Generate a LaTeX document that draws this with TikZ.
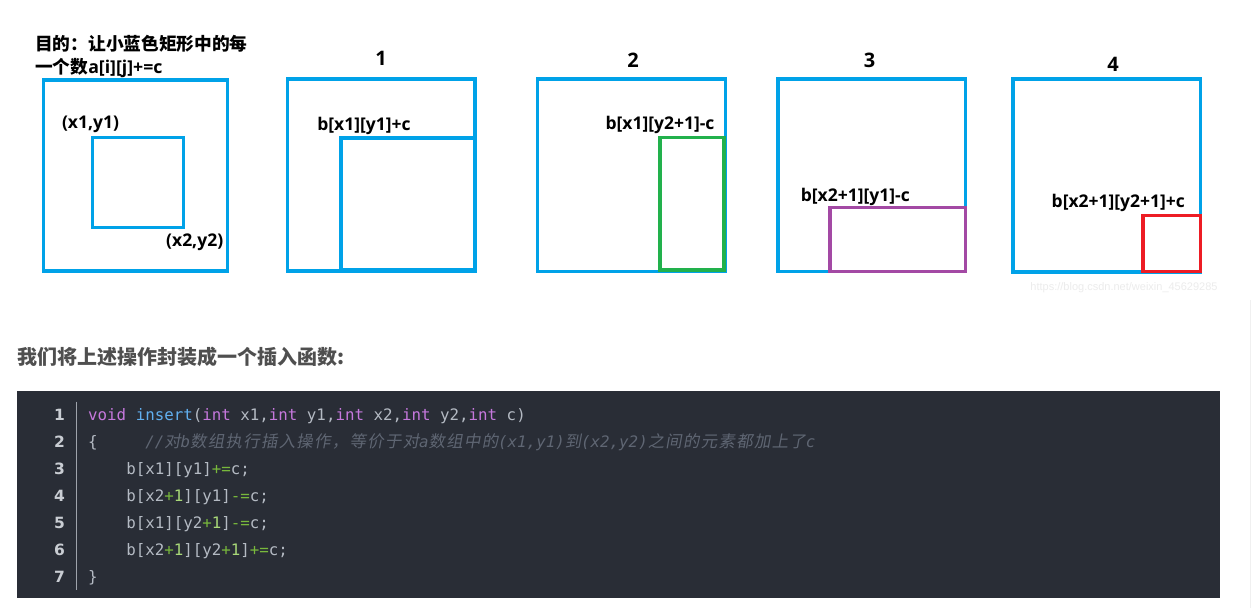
\documentclass[tikz,border=0pt]{standalone}
\usepackage{fontspec}
\setmonofont{DejaVu Sans Mono}
\newfontfamily\cjk{Noto Sans CJK SC}
\newfontfamily\cjkc{Noto Sans CJK SC}[FakeSlant=0.18,LetterSpace=8]
\newfontfamily\lat{Open Sans}
\newfontfamily\numf{DejaVu Sans}
\newfontfamily\wmf{Liberation Sans}
\definecolor{pblue}{HTML}{00A2E8}
\definecolor{pgreen}{HTML}{22B14C}
\definecolor{ppurple}{HTML}{A349A4}
\definecolor{pred}{HTML}{ED1C24}
\definecolor{codebg}{HTML}{292D36}
\definecolor{kwc}{HTML}{C678DD}
\definecolor{fnc}{HTML}{61AFEF}
\definecolor{plc}{HTML}{B4BAC3}
\definecolor{opc}{HTML}{78B83C}
\definecolor{nmc}{HTML}{A8D878}
\definecolor{cmc}{HTML}{5F6673}
\definecolor{lnc}{HTML}{C9CDD3}
\definecolor{sepc}{HTML}{9EA3AB}
\definecolor{headc}{HTML}{4F4F4F}
\definecolor{wmc}{HTML}{ECECEC}
\newcommand\kw[1]{\textcolor{kwc}{#1}}
\newcommand\fn[1]{\textcolor{fnc}{#1}}
\newcommand\op[1]{\textcolor{opc}{#1}}
\newcommand\nm[1]{\textcolor{nmc}{#1}}
\newcommand\cm[1]{\textcolor{cmc}{\itshape #1}}
\newcommand\cz[1]{\textcolor{cmc}{\cjkc\fontsize{16.4}{18}\selectfont #1}}
\tikzset{
  box/.style={draw=pblue,line width=3.2},
  gbox/.style={draw=pgreen,line width=3.2},
  vbox/.style={draw=ppurple,line width=3.2},
  rbox/.style={draw=pred,line width=3.2},
  lbl/.style={inner sep=0,font=\lat\bfseries\fontsize{17.5}{20}\selectfont},
  numlbl/.style={inner sep=0,font=\lat\bfseries\fontsize{20}{22}\selectfont},
  ttl/.style={inner sep=0,anchor=west,font=\cjk\bfseries\fontsize{17.7}{20}\selectfont},
  code/.style={inner sep=0,anchor=base west,text=plc,font=\ttfamily\fontsize{15.8}{18}\selectfont},
  lnum/.style={inner sep=0,anchor=base east,text=lnc,font=\numf\bfseries\fontsize{15.5}{18}\selectfont},
}
\begin{document}
\begin{tikzpicture}[x=1pt,y=-1pt]
\useasboundingbox[fill=white] (0,0) rectangle (1251,608);
\draw[draw=black!6,line width=1] (1250.5,300) -- (1250.5,608);
% title
\node[ttl] (t1) at (35,43.4) {目的：让小蓝色矩形中的每};
\node[ttl] (t2) at (35,68.4) {一个数{\lat a[i][j]+=c}};
% panel 0
\draw[box] (43.3,80) rectangle (227.7,271);
\draw[box] (92.5,137.5) rectangle (183.7,227.5);
\node[lbl] (p1) at (90.5,124.5) {(x1,y1)};
\node[lbl] (p2) at (194.7,242) {(x2,y2)};
% panel 1
\node[numlbl] (n1) at (381,58) {1};
\draw[box] (287.7,79) rectangle (475,271);
\draw[box] (341,138) rectangle (475,269.8);
\node[lbl] (l1) at (364,125.5) {b[x1][y1]+c};
% panel 2
\node[numlbl] (n2) at (633,60) {2};
\draw[box] (537.3,79) rectangle (725.3,271.3);
\draw[gbox] (660,137.3) rectangle (724,270);
\node[lbl] (l2) at (660,124.5) {b[x1][y2+1]-c};
% panel 3
\node[numlbl] (n3) at (869.5,60) {3};
\draw[box] (778,79) rectangle (965.7,271.3);
\draw[vbox] (830,207.3) rectangle (965.3,271.3);
\node[lbl] (l3) at (855.3,197) {b[x2+1][y1]-c};
% panel 4
\node[numlbl] (n4) at (1113,64.7) {4};
\draw[box] (1013,79) rectangle (1200.7,272);
\draw[rbox] (1143,215.7) rectangle (1200.7,271.3);
\node[lbl] (l4) at (1118.3,203.3) {b[x2+1][y2+1]+c};
\node[inner sep=0,text=wmc,font=\wmf\fontsize{11}{12}\selectfont] (wm) at (1124,288) {https://blog.csdn.net/weixin\_45629285};
% heading
\node[inner sep=0,anchor=west,text=headc,font=\cjk\bfseries\fontsize{20}{22}\selectfont] (hd) at (17.5,356.5) {我们将上述操作封装成一个插入函数:};
% code block
\fill[codebg] (17,391) rectangle (1220,598);
\draw[sepc,line width=1.2] (76.7,401.7) -- (76.7,590);
\foreach \i in {1,...,7} {
  \node[lnum] (ln\i) at (65,420.7+27*\i-27) {\i};
}
\node[code] (c1) at (88,420.7) {\kw{void} \fn{insert}(\kw{int} x1,\kw{int} y1,\kw{int} x2,\kw{int} y2,\kw{int} c)};
\node[code] (c2) at (88,447.7) {\{\phantom{00000}\cm{//}\cz{对}\cm{b}\cz{数组执行插入操作，等价于对}\cm{a}\cz{数组中的}\cm{(x1,y1)}\cz{到}\cm{(x2,y2)}\cz{之间的元素都加上了}\cm{c}};
\node[code] (c3) at (88,474.7) {\phantom{0000}b[x1][y1]\op{+=}c;};
\node[code] (c4) at (88,501.7) {\phantom{0000}b[x2\op{+}\nm{1}][y1]\op{-=}c;};
\node[code] (c5) at (88,528.7) {\phantom{0000}b[x1][y2\op{+}\nm{1}]\op{-=}c;};
\node[code] (c6) at (88,555.7) {\phantom{0000}b[x2\op{+}\nm{1}][y2\op{+}\nm{1}]\op{+=}c;};
\node[code] (c7) at (88,582.7) {\}};
\end{tikzpicture}
\end{document}
